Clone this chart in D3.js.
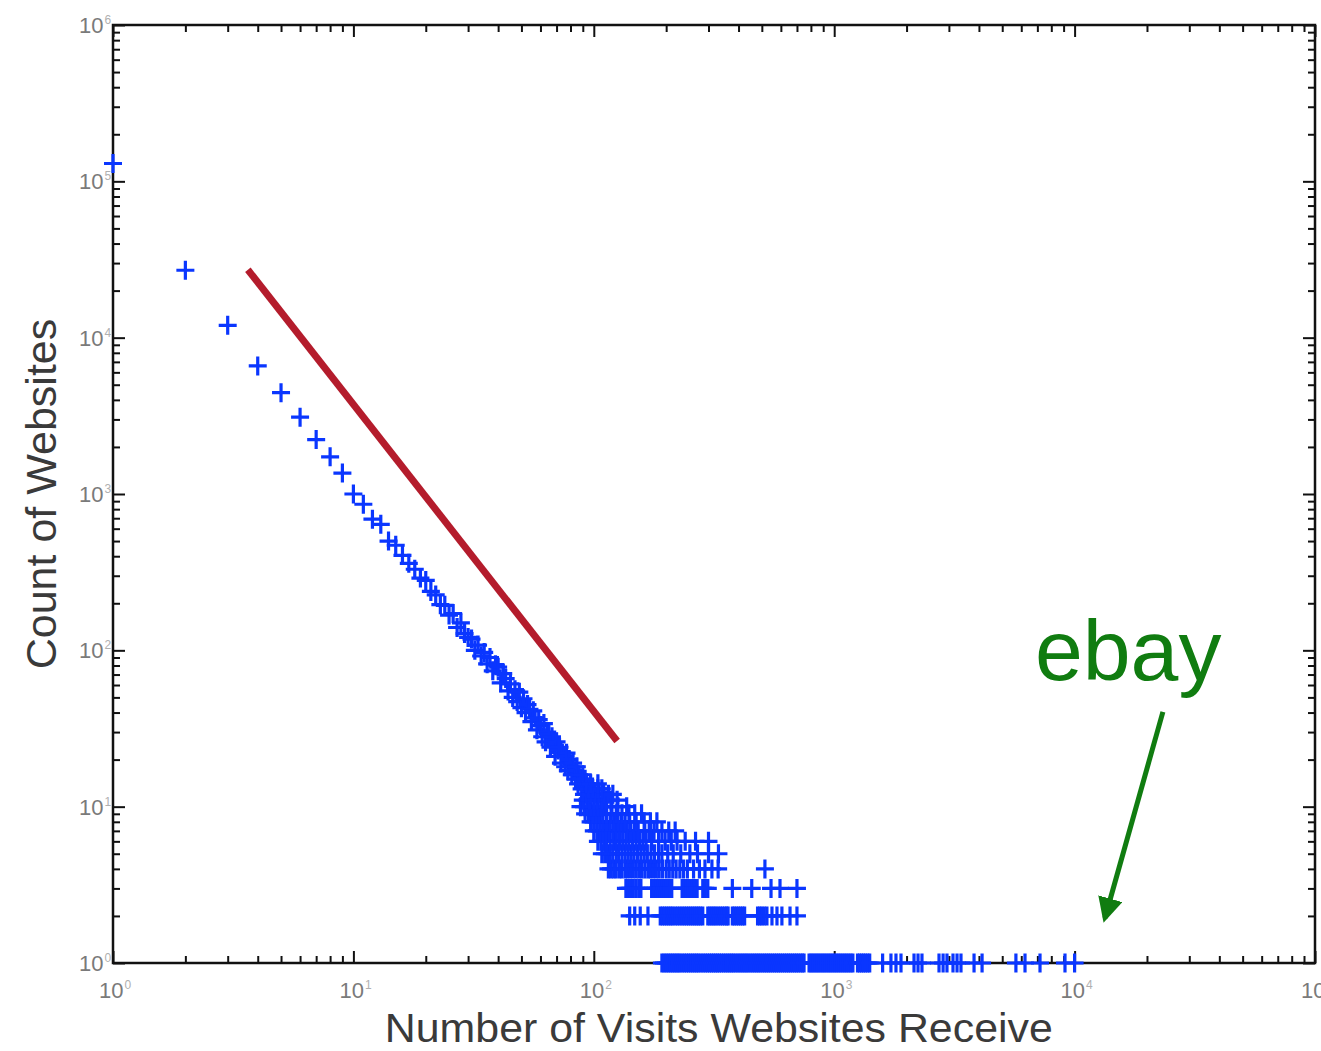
<!DOCTYPE html>
<html>
<head>
<meta charset="utf-8">
<script src="https://cdn.jsdelivr.net/npm/d3@7/dist/d3.min.js"></script>
<style>
  html, body { margin: 0; padding: 0; background: #fff; }
  svg { display: block; font-family: "Liberation Sans", Arial, sans-serif; }
</style>
</head>
<body>
<svg id="chart" width="1321" height="1051"></svg>
<script>
// head of the distribution: one point per visit count
const headVisits = [1, 2, 3, 4, 5, 6, 7, 8, 9, 10,
  11, 12, 13, 14, 15, 16, 17, 18, 19, 20, 21, 22, 23, 24, 25, 26, 27, 28, 29, 30,
  31, 32, 33, 34, 35, 36, 37, 38, 39, 40, 41, 42, 43, 44, 45, 46, 47, 48, 49, 50,
  51, 52, 53, 54, 55, 56, 57, 58, 59, 60, 61, 62, 63, 64, 65, 66, 67, 68, 69, 70,
  71, 72, 73, 74, 75, 76, 77, 78, 79, 80, 81, 82, 83, 84, 85, 86, 87, 88, 89, 90,
  91, 92, 93, 94, 95];
const headCounts = [130000, 27000, 12000, 6600, 4450, 3100, 2230, 1730, 1360, 1000,
  860, 690, 640, 500, 470, 405, 360, 330, 290, 280, 238, 226, 196, 194, 168, 172, 140, 150, 128, 121,
  118, 100, 108, 92, 97, 82, 90, 74, 81, 78, 62, 71, 66, 55, 61, 50, 56, 47, 54, 43,
  49, 40, 45, 42, 35, 41, 37, 31, 36, 33, 28, 34, 26, 30, 29, 24, 28, 25, 21, 26,
  23, 24, 19, 22, 21, 18, 22, 17, 20, 18, 16, 19, 17, 15, 18, 14, 16, 15, 13, 16,
  12, 15, 14, 11, 13];

// tail: websites per visit count, grouped by how many websites share it
const tailLevels = [1, 2, 3, 4, 5, 6, 7, 8, 9, 10, 11, 12, 13, 14];
const tailVisits = [
  [192, 196, 200, 204, 208, 212, 216, 220, 224, 228, 233, 238, 243, 248, 253, 258, 263, 268, 273,
   279, 285, 291, 297, 303, 309, 315, 321, 327, 333, 340, 347, 354, 361, 368, 375, 382, 390, 398,
   406, 414, 422, 430, 438, 447, 456, 465, 474, 483, 492, 502, 512, 522, 532, 542, 553, 564, 575,
   586, 597, 609, 621, 633, 645, 657, 670, 683, 696, 709, 723, 737, 749,
   786, 801, 816, 832, 848, 864, 881, 898, 915, 933, 951, 969, 988, 1007, 1026, 1046, 1066, 1087,
   1108, 1129, 1151, 1173, 1196, 1250, 1275, 1300, 1325, 1350, 1378, 1405,
   1590, 1722, 1807, 1896, 2148, 2232, 2318, 2729, 2838, 2945, 3120, 3243, 3368, 3817, 4122,
   5700, 6219, 7180, 9120, 10000],
  [141, 148, 156, 168, 189, 193, 197, 201, 205, 209, 213, 218, 223, 228, 233, 238, 243, 248, 253,
   258, 263, 268, 273, 278, 284, 298, 304, 310, 316, 322, 329, 336, 343, 350, 357, 362,
   377, 384, 392, 400, 408, 416, 424, 480, 490, 500, 512, 525, 551, 578, 606, 655, 700],
  [136, 139, 142, 146, 150, 154, 157, 174, 177, 181, 185, 189, 192, 196, 200, 204, 208, 211,
   233, 237, 242, 246, 251, 256, 261, 265, 269, 284, 291, 298, 377, 454, 546, 595, 700],
  [115, 118, 121, 124, 128, 131, 135, 138, 142, 146, 150, 154, 158, 163, 168, 172, 177, 182,
   187, 193, 200, 206, 213, 220, 228, 236, 245, 260, 275, 290, 310, 329, 515],
  [108, 111, 114, 117, 120, 124, 127, 131, 135, 139, 143, 147, 152, 157, 162, 167, 173, 179,
   186, 192, 203, 214, 230, 251, 270, 300, 330],
  [104, 107, 110, 113, 117, 121, 124, 128, 132, 136, 140, 145, 150, 155, 160, 165, 174, 186,
   198, 210, 222, 240, 265, 300],
  [100, 103, 106, 109, 112, 116, 120, 124, 128, 132, 137, 142, 147, 153, 163, 170, 178, 192, 205, 218],
  [97, 100, 103, 106, 109, 113, 117, 121, 126, 130, 135, 141, 150, 162, 172, 183],
  [92, 95, 99, 102, 105, 109, 113, 118, 124, 131, 140, 148, 158],
  [88, 91, 94, 97, 100, 104, 107, 110, 113, 119, 126, 137],
  [90, 96, 100, 103, 108, 112, 118, 125],
  [93, 97, 101, 105, 110, 115, 120],
  [95, 99, 104, 108],
  [93, 97, 104]
];

// reference power-law line and the ebay annotation, in data units
const fitLine = [[3.64, 27200], [125, 26.3]];
const ebayLabel = {text: 'ebay', visits: 6840, count: 64.7};
const ebayArrow = [[23300, 40.4], [13370, 1.94]];

const xDomain = [1, 1e5];
const yDomain = [1, 1e6];
const xTitle = 'Number of Visits Websites Receive';
const yTitle = 'Count of Websites';

var width = 1321, height = 1051;
var margin = {top: 25, right: 6, bottom: 88, left: 113};
var innerW = width - margin.left - margin.right;
var innerH = height - margin.top - margin.bottom;

var points = headVisits.map((v, i) => ({visits: v, count: headCounts[i]}));
tailLevels.forEach((c, i) => {
  tailVisits[i].forEach(v => points.push({visits: v, count: c}));
});

var x = d3.scaleLog().domain(xDomain).range([0, innerW]);
var y = d3.scaleLog().domain(yDomain).range([innerH, 0]);

var svg = d3.select('#chart');
var g = svg.append('g').attr('transform', `translate(${margin.left},${margin.top})`);

var isMajor = d => Math.abs(Math.log10(d) - Math.round(Math.log10(d))) < 1e-9;
var xMinor = x.ticks().filter(d => !isMajor(d));
var xMajor = x.ticks().filter(isMajor);
var yMinor = y.ticks().filter(d => !isMajor(d));
var yMajor = y.ticks().filter(isMajor);

// inward ticks on all four sides
function tickAxis(axisFn, scale, values, size, transform) {
  var a = g.append('g')
    .attr('transform', transform)
    .call(axisFn(scale).tickValues(values).tickSize(-size).tickFormat(''));
  a.select('.domain').remove();
  a.selectAll('line').attr('stroke', '#111').attr('stroke-width', 2);
}
tickAxis(d3.axisBottom, x, xMinor, 7, `translate(0,${innerH})`);
tickAxis(d3.axisBottom, x, xMajor, 12, `translate(0,${innerH})`);
tickAxis(d3.axisTop, x, xMinor, 7, 'translate(0,0)');
tickAxis(d3.axisTop, x, xMajor, 12, 'translate(0,0)');
tickAxis(d3.axisLeft, y, yMinor, 7, 'translate(0,0)');
tickAxis(d3.axisLeft, y, yMajor, 12, 'translate(0,0)');
tickAxis(d3.axisRight, y, yMinor, 7, `translate(${innerW},0)`);
tickAxis(d3.axisRight, y, yMajor, 12, `translate(${innerW},0)`);

g.append('rect')
  .attr('width', innerW).attr('height', innerH)
  .attr('fill', 'none').attr('stroke', '#111').attr('stroke-width', 2.5);

// tick labels: "10" with a small pale exponent
function powerLabel(sel, d) {
  sel.append('tspan').text('10');
  sel.append('tspan')
    .attr('dy', -9).attr('dx', 1)
    .attr('font-size', 12).attr('fill', '#b0b0b0')
    .text(Math.round(Math.log10(d)));
}
g.append('g').selectAll('text').data(xMajor).join('text')
  .attr('x', d => x(d) - 14)
  .attr('y', innerH + 35)
  .attr('font-size', 22).attr('fill', '#7a7a7a')
  .each(function(d) { powerLabel(d3.select(this), d); });
g.append('g').selectAll('text').data(yMajor).join('text')
  .attr('x', -34)
  .attr('y', d => y(d) + 8)
  .attr('font-size', 22).attr('fill', '#7a7a7a')
  .each(function(d) { powerLabel(d3.select(this), d); });

// axis titles
svg.append('text')
  .attr('x', margin.left + x(Math.pow(10, 2.52)))
  .attr('y', 1042)
  .attr('text-anchor', 'middle')
  .attr('font-size', 41).attr('fill', '#3a3a3a')
  .attr('textLength', 668).attr('lengthAdjust', 'spacingAndGlyphs')
  .text(xTitle);
svg.append('text')
  .attr('transform', `translate(56,${margin.top + y(Math.pow(10, 3.0))}) rotate(-90)`)
  .attr('text-anchor', 'middle')
  .attr('font-size', 43).attr('fill', '#3a3a3a')
  .text(yTitle);

// red reference line
g.append('line')
  .attr('x1', x(fitLine[0][0])).attr('y1', y(fitLine[0][1]))
  .attr('x2', x(fitLine[1][0])).attr('y2', y(fitLine[1][1]))
  .attr('stroke', '#b41c2c').attr('stroke-width', 7);

// data markers
g.append('g').selectAll('path').data(points).join('path')
  .attr('transform', d => `translate(${x(d.visits)},${y(d.count)})`)
  .attr('d', 'M-9,0H9M0,-9.5V9.5')
  .attr('fill', 'none')
  .attr('stroke', '#0a36ff').attr('stroke-width', 3.2);

// ebay annotation
svg.append('defs').append('marker')
  .attr('id', 'arrowHead')
  .attr('viewBox', '0 -5 10 10')
  .attr('refX', 8).attr('refY', 0)
  .attr('markerWidth', 5).attr('markerHeight', 5)
  .attr('markerUnits', 'strokeWidth')
  .attr('orient', 'auto')
  .append('path')
    .attr('d', 'M0,-5 L10,0 L0,5 Z')
    .attr('fill', '#107c10');

g.append('text')
  .attr('x', x(ebayLabel.visits)).attr('y', y(ebayLabel.count))
  .attr('font-size', 86).attr('fill', '#107c10')
  .text(ebayLabel.text);

g.append('line')
  .attr('x1', x(ebayArrow[0][0])).attr('y1', y(ebayArrow[0][1]))
  .attr('x2', x(ebayArrow[1][0])).attr('y2', y(ebayArrow[1][1]))
  .attr('stroke', '#107c10').attr('stroke-width', 5)
  .attr('marker-end', 'url(#arrowHead)');
</script>
</body>
</html>
